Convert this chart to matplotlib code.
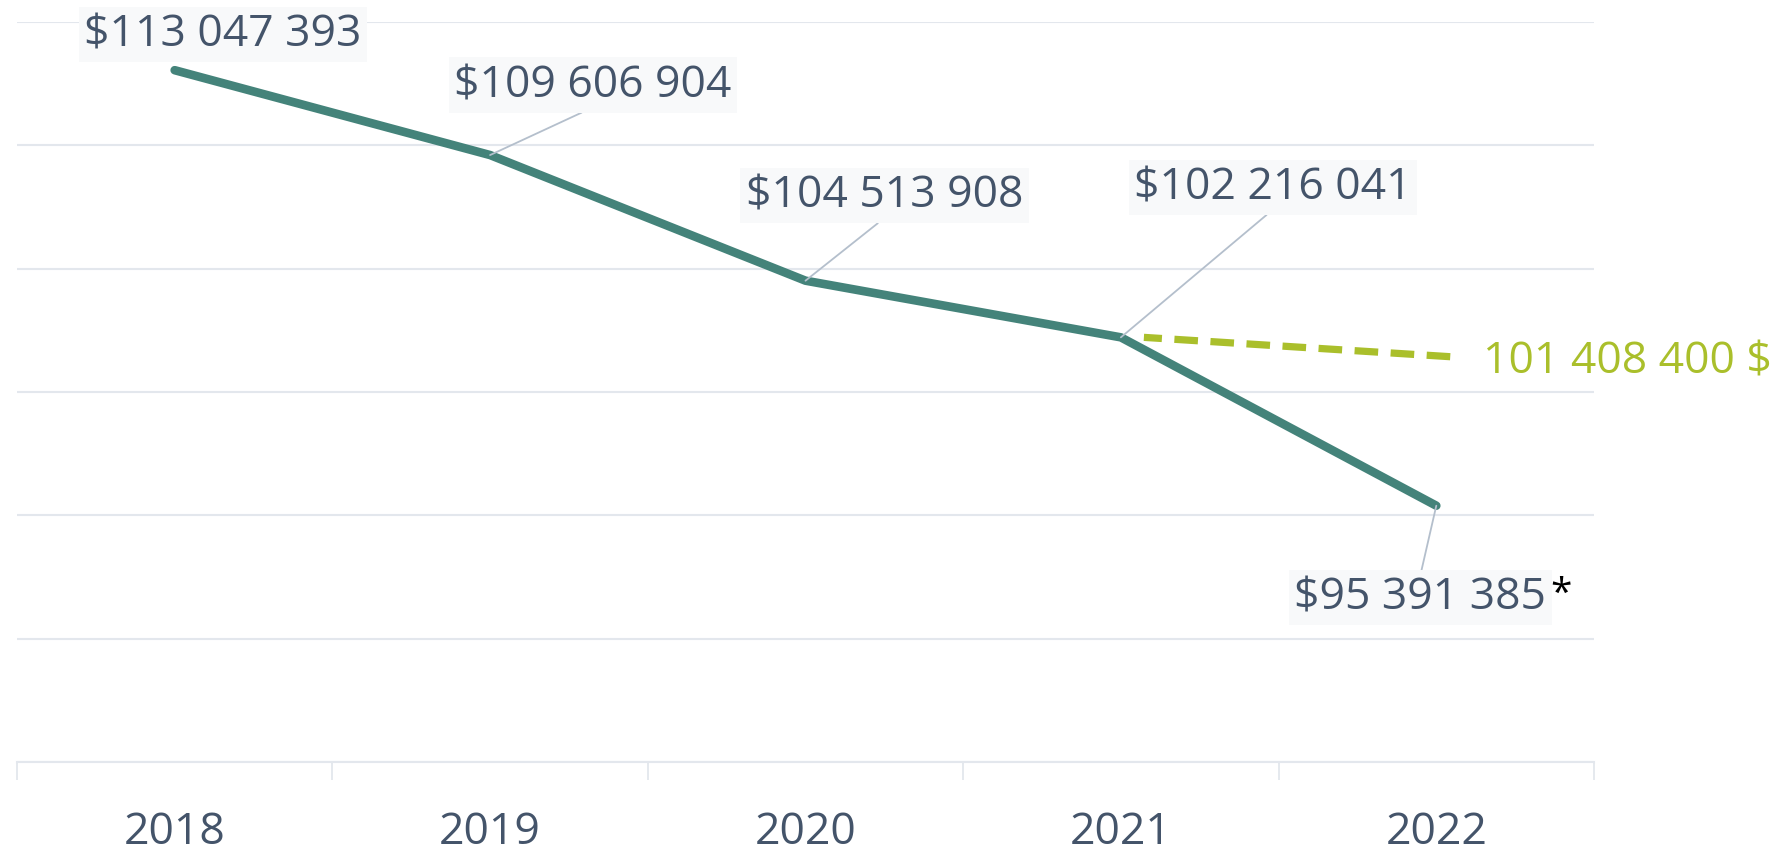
import matplotlib
matplotlib.use('Agg')
import matplotlib.pyplot as plt
import matplotlib.transforms as mtransforms
import numpy as np

years = ['2018', '2019', '2020', '2021', '2022']
revenue = [113047393, 109606904, 104513908, 102216041, 95391385]
labels = ['$113 047 393', '$109 606 904', '$104 513 908', '$102 216 041', '$95 391 385']
target_years = ['2021', '2022']
target = [102216041, 101408400]
target_label = '101 408 400 $'

# label offsets from the point, in pixels
offsets = [(48, 36), (103, 70), (79, 85), (152, 150), (-16, -92)]

plt.rcParams['font.family'] = ['Open Sans', 'DejaVu Sans']
plt.rcParams['lines.scale_dashes'] = False

text_color = '#44546a'
line_color = '#44837a'
green = '#aabf2b'
grid_color = '#e3e7ed'

fig = plt.figure(figsize=(17.86, 8.53), dpi=100)
ax = fig.add_axes([0.0095, 0.1055, 0.883, 0.8675])

x = np.arange(len(years))
ax.plot(x, revenue, color=line_color, lw=6.2, solid_capstyle='round',
        solid_joinstyle='round', zorder=3)

tx = [years.index(y) for y in target_years]
shift = mtransforms.offset_copy(ax.transData, fig=fig, x=23, y=0, units='dots')
ax.plot(tx, target, color=green, lw=5.2, linestyle=(4, (17, 9)),
        transform=shift, zorder=2)
ax.annotate(target_label, xy=(tx[-1], target[-1]), xytext=(47, -4),
            textcoords='offset pixels', ha='left', va='center',
            fontsize=32, color=green, annotation_clip=False)

box = dict(boxstyle='square,pad=0.12', fc='#f8f9fa', ec='none')
last = None
for i, (v, lab, off) in enumerate(zip(revenue, labels, offsets)):
    arrow = None
    if i > 0:
        arrow = dict(arrowstyle='-', color='#b4bfcc', lw=1.3,
                     shrinkA=0, shrinkB=0,
                     relpos=(0.5, 0.0) if off[1] > 0 else (0.5, 1.0))
    last = ax.annotate(lab, xy=(i, v), xytext=off, textcoords='offset pixels',
                       ha='center', va='center', fontsize=32, color=text_color,
                       bbox=box, arrowprops=arrow, annotation_clip=False,
                       zorder=4)
ax.annotate('*', xy=(0.995, 0.92), xycoords=last.get_bbox_patch(), ha='left',
            va='top', fontsize=28, color='black', annotation_clip=False,
            zorder=6)

ax.set_xlim(-0.5, len(years) - 0.5)
ax.set_ylim(85000000, 115000000)
ax.set_yticks(np.arange(85000000, 115000001, 5000000))
ax.set_yticklabels([])
ax.tick_params(axis='y', length=0)
ax.grid(axis='y', color=grid_color, lw=1.5)
ax.set_axisbelow(True)

ax.set_xticks(x)
ax.set_xticklabels(years, fontsize=32, color=text_color)
ax.set_xticks(np.arange(-0.5, len(years)), minor=True)
ax.tick_params(axis='x', which='major', length=0, pad=34)
ax.tick_params(axis='x', which='minor', length=13, width=1.3, color=grid_color)

for side in ['top', 'right', 'left']:
    ax.spines[side].set_visible(False)
ax.spines['bottom'].set_color(grid_color)
ax.spines['bottom'].set_linewidth(1.5)

fig.savefig('out.png', dpi=100)
